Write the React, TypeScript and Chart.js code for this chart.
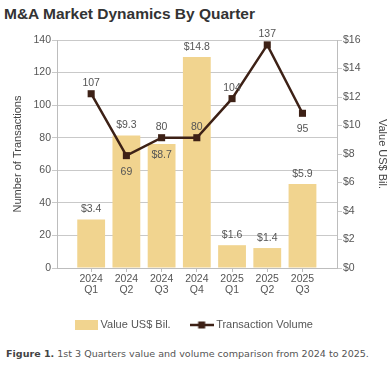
import React, { useEffect, useRef } from "react";
import { Chart, registerables } from "chart.js";

Chart.register(...registerables);

// ---------- data ----------
const quarterLabels: string[][] = [
  ["2024", "Q1"],
  ["2024", "Q2"],
  ["2024", "Q3"],
  ["2024", "Q4"],
  ["2025", "Q1"],
  ["2025", "Q2"],
  ["2025", "Q3"],
];
const valueBil: number[] = [3.4, 9.3, 8.7, 14.8, 1.6, 1.4, 5.9];
const transactionVolume: number[] = [107, 69, 80, 80, 104, 137, 95];
const countTicks: number[] = [0, 20, 40, 60, 80, 100, 120, 140];
const valueTicks: number[] = [0, 2, 4, 6, 8, 10, 12, 14, 16];

const BAR_COLOR = "#f1d48f";
const LINE_COLOR = "#3d2116";
const GRID_COLOR = "#c9c9c9";
const AXIS_COLOR = "#bdbdbd";
const TEXT_COLOR = "#555555";
const FONT = '"Liberation Sans", Arial, Helvetica, sans-serif';

function makeSwatch(): HTMLCanvasElement {
  const c = document.createElement("canvas");
  c.width = 23;
  c.height = 10;
  const g = c.getContext("2d")!;
  g.fillStyle = BAR_COLOR;
  g.fillRect(0, 0, 23, 10);
  return c;
}

function makeLineIcon(): HTMLCanvasElement {
  const c = document.createElement("canvas");
  c.width = 24;
  c.height = 10;
  const g = c.getContext("2d")!;
  g.strokeStyle = LINE_COLOR;
  g.lineWidth = 2.5;
  g.beginPath();
  g.moveTo(0, 5);
  g.lineTo(24, 5);
  g.stroke();
  g.fillStyle = LINE_COLOR;
  g.fillRect(8.5, 1.5, 7, 7);
  return c;
}

const valueLabelPlugin = {
  id: "valueLabels",
  afterDatasetsDraw(chart: any) {
    const ctx = chart.ctx as CanvasRenderingContext2D;
    const barMeta = chart.getDatasetMeta(0);
    const lineMeta = chart.getDatasetMeta(1);
    ctx.save();
    ctx.font = `10.5px ${FONT}`;
    ctx.fillStyle = TEXT_COLOR;
    ctx.textAlign = "center";
    ctx.textBaseline = "middle";
    barMeta.data.forEach((bar: any, i: number) => {
      const pt = lineMeta.data[i];
      let y = bar.y - 10;
      if (pt && Math.abs(y - pt.y) < 10) y = bar.y + 11;
      ctx.fillText("$" + valueBil[i].toFixed(1), bar.x, y);
    });
    lineMeta.data.forEach((pt: any, i: number) => {
      const v = transactionVolume[i];
      const prev = transactionVolume[i - 1];
      const next = transactionVolume[i + 1];
      const low =
        (prev === undefined || prev > v) && (next === undefined || next > v);
      ctx.fillText(String(v), pt.x, low ? pt.y + 16 : pt.y - 11);
    });
    ctx.restore();
  },
};

export default function App() {
  const canvasRef = useRef<HTMLCanvasElement | null>(null);

  useEffect(() => {
    const canvas = canvasRef.current;
    if (!canvas) return;
    const swatch = makeSwatch();
    const lineIcon = makeLineIcon();

    const chart = new Chart(canvas, {
      type: "bar",
      data: {
        datasets: [
          {
            type: "bar",
            label: "Value US$ Bil.",
            data: valueBil.map((v, i) => ({ x: i, y: v })),
            backgroundColor: BAR_COLOR,
            borderWidth: 0,
            yAxisID: "y1",
            xAxisID: "x",
            order: 1,
            categoryPercentage: 1,
            barPercentage: 0.79,
          } as any,
          {
            type: "line",
            label: "Transaction Volume",
            data: transactionVolume.map((v, i) => ({ x: i, y: v })),
            borderColor: LINE_COLOR,
            backgroundColor: LINE_COLOR,
            borderWidth: 2.5,
            pointStyle: "rect",
            pointRadius: 5,
            pointBackgroundColor: LINE_COLOR,
            pointBorderWidth: 0,
            tension: 0,
            yAxisID: "y",
            xAxisID: "x",
            order: 0,
            clip: false,
          } as any,
        ],
      },
      options: {
        responsive: false,
        animation: false,
        devicePixelRatio: 1,
        layout: { padding: { left: 0, right: 0, top: 40, bottom: 4.5 } },
        plugins: {
          tooltip: { enabled: false },
          title: { display: false },
          legend: {
            display: true,
            position: "bottom",
            labels: {
              usePointStyle: true,
              pointStyleWidth: 18,
              boxHeight: 10,
              padding: 22,
              color: TEXT_COLOR,
              font: { family: FONT, size: 11 },
              generateLabels: () => [
                {
                  text: "Value US$ Bil.",
                  pointStyle: swatch,
                  fillStyle: BAR_COLOR,
                  strokeStyle: BAR_COLOR,
                  lineWidth: 0,
                  hidden: false,
                  datasetIndex: 0,
                  fontColor: TEXT_COLOR,
                } as any,
                {
                  text: "Transaction Volume",
                  pointStyle: lineIcon,
                  fillStyle: LINE_COLOR,
                  strokeStyle: LINE_COLOR,
                  lineWidth: 0,
                  hidden: false,
                  datasetIndex: 1,
                  fontColor: TEXT_COLOR,
                } as any,
              ],
            },
          },
        },
        scales: {
          x: {
            type: "linear",
            position: "bottom",
            min: -0.97,
            max: 6.98,
            offset: false,
            afterBuildTicks: (scale: any) => {
              scale.ticks = quarterLabels.map((_, i) => ({ value: i }));
            },
            afterFit: (scale: any) => {
              scale.height = 29.5;
            },
            grid: {
              display: true,
              drawOnChartArea: false,
              drawTicks: true,
              tickLength: 4,
              color: AXIS_COLOR,
              offset: false,
            },
            border: { display: true, color: AXIS_COLOR, width: 1 },
            ticks: {
              autoSkip: false,
              maxRotation: 0,
              minRotation: 0,
              padding: 2,
              color: TEXT_COLOR,
              font: { family: FONT, size: 10.5, lineHeight: 1.05 },
              callback: (v: any) => quarterLabels[Math.round(Number(v))] ?? "",
            },
          },
          y: {
            type: "linear",
            position: "left",
            min: countTicks[0],
            max: countTicks[countTicks.length - 1],
            afterBuildTicks: (scale: any) => {
              scale.ticks = countTicks.map((v) => ({ value: v }));
            },
            afterFit: (scale: any) => {
              scale.width = 57;
            },
            grid: {
              color: GRID_COLOR,
              lineWidth: 1,
              drawTicks: true,
              tickLength: 5,
            },
            border: { display: true, color: AXIS_COLOR, width: 1 },
            ticks: {
              padding: 1,
              color: TEXT_COLOR,
              font: { family: FONT, size: 10.5 },
            },
            title: {
              display: true,
              text: "Number of Transactions",
              color: "#444",
              font: { family: FONT, size: 11, lineHeight: 1 },
              padding: { top: 12.5, bottom: 0 },
            },
          },
          y1: {
            type: "linear",
            position: "right",
            min: valueTicks[0],
            max: valueTicks[valueTicks.length - 1],
            afterBuildTicks: (scale: any) => {
              scale.ticks = valueTicks.map((v) => ({ value: v }));
            },
            afterFit: (scale: any) => {
              scale.width = 53;
            },
            grid: {
              drawOnChartArea: false,
              color: GRID_COLOR,
              drawTicks: true,
              tickLength: 5,
            },
            border: { display: true, color: AXIS_COLOR, width: 1 },
            ticks: {
              padding: 1,
              color: TEXT_COLOR,
              font: { family: FONT, size: 10.5 },
              callback: (v: any) => "$" + v,
            },
            title: {
              display: true,
              text: "Value US$ Bil.",
              color: "#444",
              font: { family: FONT, size: 11, lineHeight: 1 },
              padding: { top: 2.5, bottom: 0 },
            },
          },
        },
      } as any,
      plugins: [valueLabelPlugin],
    });

    return () => {
      chart.destroy();
    };
  }, []);

  return (
    <div
      style={{
        position: "relative",
        width: 390,
        height: 380,
        background: "#fff",
        overflow: "hidden",
      }}
    >
      <style>{`html,body{margin:0;padding:0;background:#fff;}`}</style>
      <div
        style={{
          position: "absolute",
          left: 4,
          top: 6,
          font: `bold 15.5px ${FONT}`,
          lineHeight: 1,
          color: "#333",
          whiteSpace: "nowrap",
        }}
      >
        M&amp;A Market Dynamics By Quarter
      </div>
      <canvas
        ref={canvasRef}
        width={390}
        height={345}
        style={{ position: "absolute", left: 0, top: 0, display: "block" }}
      />
      <div
        style={{
          position: "absolute",
          left: 6,
          top: 349,
          fontFamily: '"DejaVu Sans", Verdana, sans-serif',
          fontSize: 9.55,
          lineHeight: 1,
          color: "#555",
          whiteSpace: "nowrap",
        }}
      >
        <span style={{ fontWeight: "bold", color: "#444" }}>Figure 1.</span>{" "}
        1st 3 Quarters value and volume comparison from 2024 to 2025.
      </div>
    </div>
  );
}
